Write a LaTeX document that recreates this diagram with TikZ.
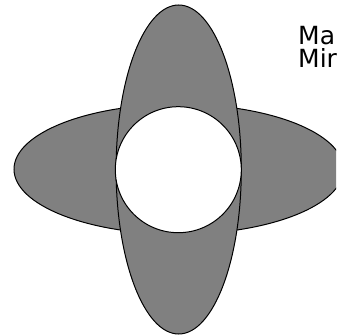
\documentclass[tikz,border=0pt]{standalone}
\usepackage{fontspec}
\setmainfont{DejaVu Sans}
\begin{document}
\begin{tikzpicture}[x=1pt,y=-1pt,
  petal/.style={draw=black,fill=gray,line width=1pt},
  hole/.style={draw=black,fill=white,line width=1pt},
  lbl/.style={anchor=base west,inner sep=0pt,font=\fontsize{25}{28}\selectfont}]
\useasboundingbox (0,0) rectangle (336,336);
\begin{scope}
\clip (0,0) rectangle (336,336);
\draw[petal] (178.7,169.2) ellipse [x radius=164.7, y radius=65];
\draw[petal] (178.7,169.5) ellipse [x radius=62.6, y radius=164.5];
\draw[hole] (178.3,169.7) circle [radius=63];
\node[lbl] (major) at (298,45) {Ma};
\node[lbl] (minor) at (298,68) {Mir};
\end{scope}
\end{tikzpicture}
\end{document}
